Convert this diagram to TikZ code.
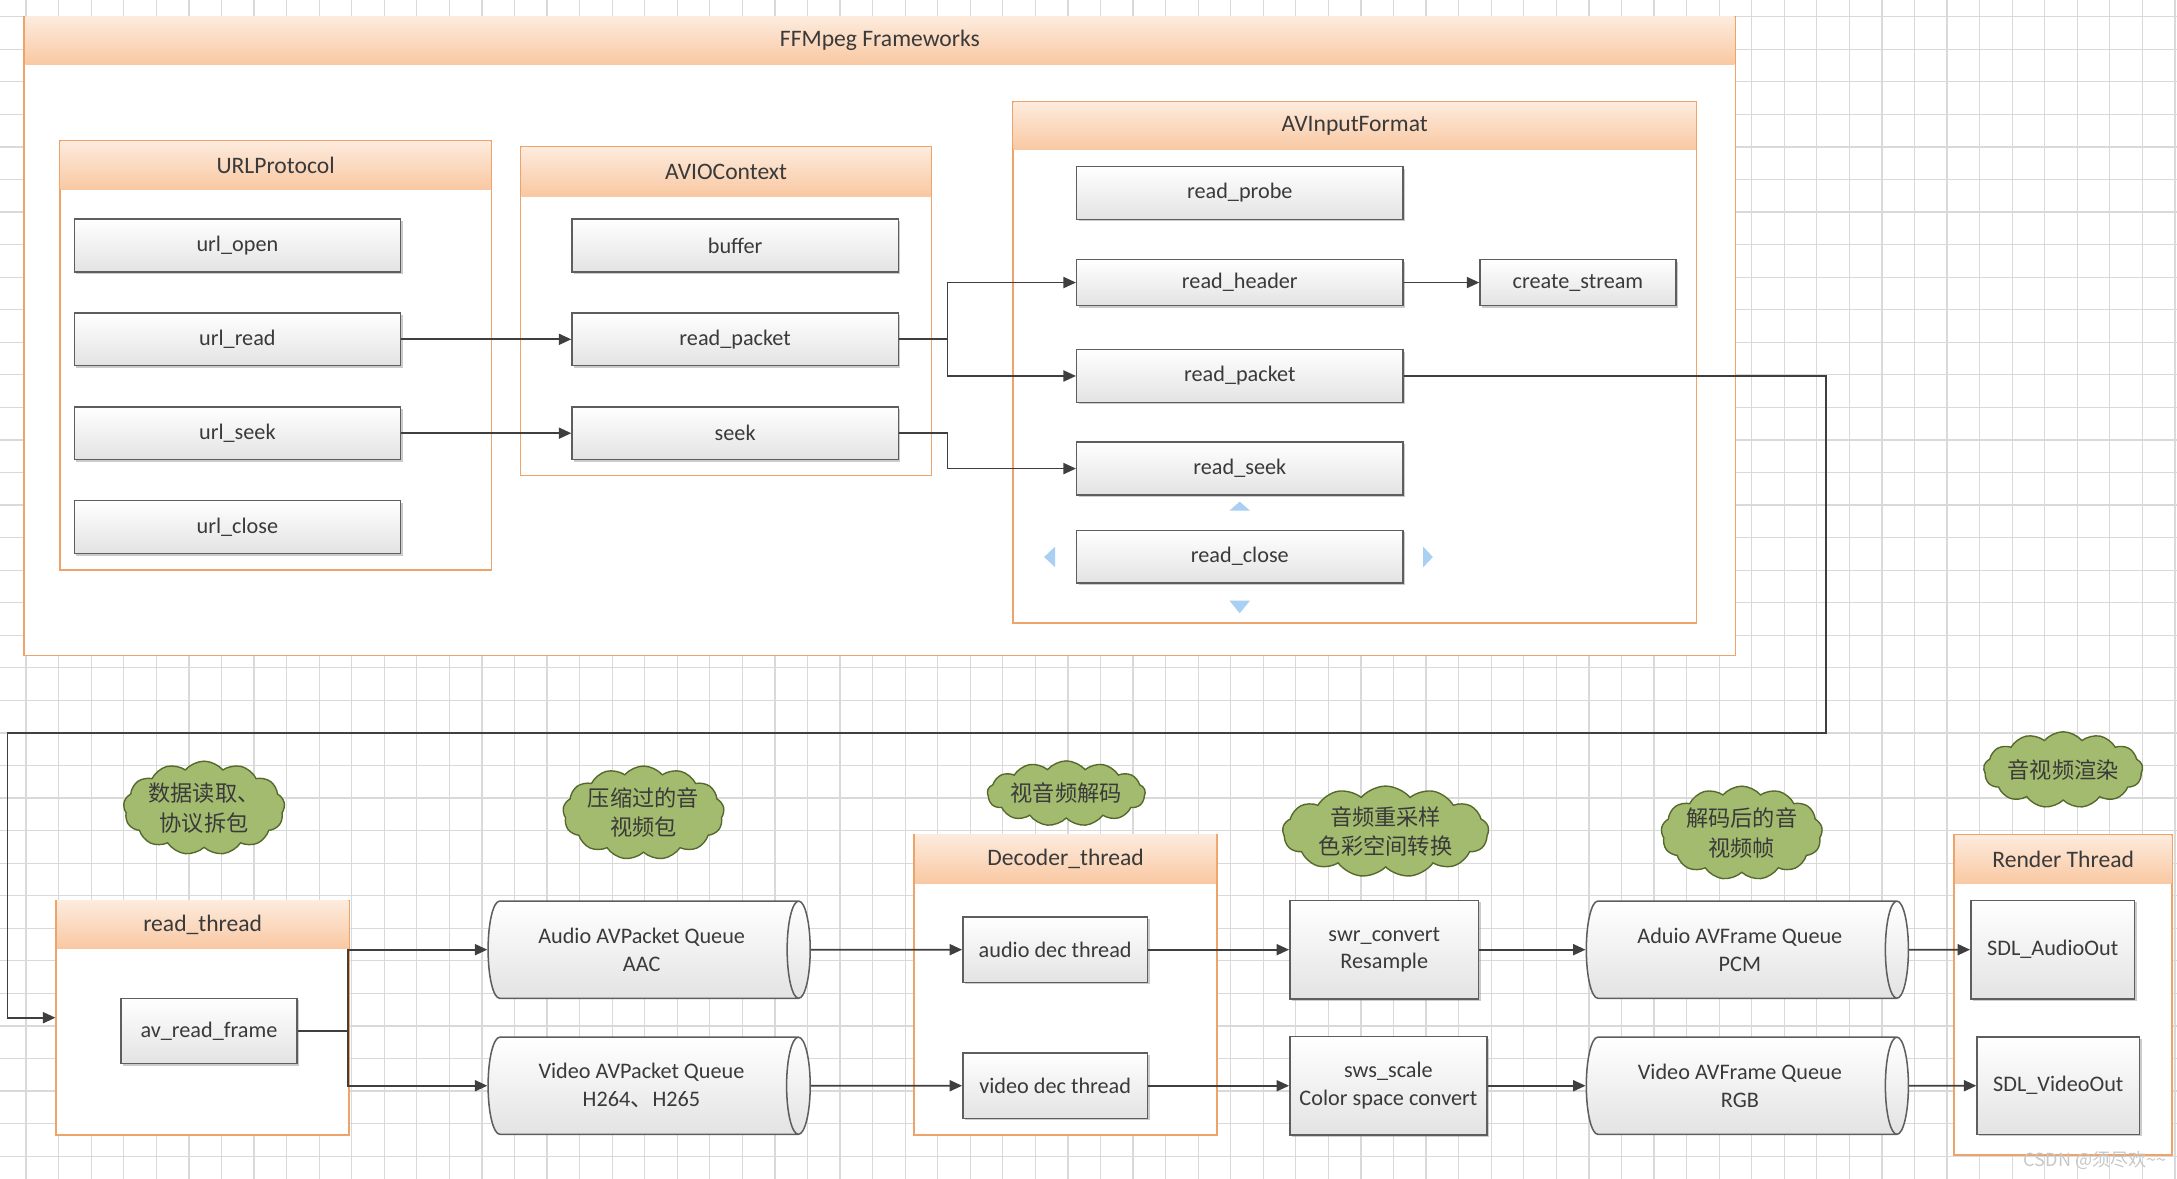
\documentclass[tikz,border=0pt]{standalone}
\usepackage{fontspec}
\setmainfont{Carlito}
\newfontfamily\cjk{Noto Sans CJK SC}
\usetikzlibrary{positioning,fit,shapes.geometric,shapes.symbols,arrows.meta,shadows}

\definecolor{gridgray}{HTML}{D9D9D9}
\definecolor{frameline}{HTML}{EDA36A}
\definecolor{headtop}{HTML}{FDEBDD}
\definecolor{headbot}{HTML}{F9C8A2}
\definecolor{itemline}{HTML}{5E5E5E}
\definecolor{itembot}{HTML}{E3E3E3}
\definecolor{linkgray}{HTML}{3F3F3F}
\definecolor{cloudfill}{HTML}{A3BB6E}
\definecolor{cloudline}{HTML}{55692C}
\definecolor{handleblue}{HTML}{A9CFF2}
\definecolor{txt}{HTML}{3A3A3A}

\begin{document}
\begin{tikzpicture}[x=1pt, y=-1pt, node distance={67.6pt},
	every node/.style={text=txt, font=\fontsize{16}{20}\selectfont},
	frame/.style={draw=frameline, line width=1.2pt, fill=white, inner sep=0pt},
	head/.style={top color=headtop, bottom color=headbot, inner sep=0pt, anchor=north, font=\fontsize{17}{20}\selectfont},
	item/.style={draw=itemline, line width=1.1pt, top color=white, bottom color=itembot, minimum width=235pt, minimum height=38pt, inner sep=1pt, align=center,
		drop shadow={shadow xshift=1.5pt, shadow yshift=-1.5pt, fill=black!40, opacity=0.5}},
	queue/.style={cylinder, draw=itemline, line width=1.1pt, top color=white, bottom color=itembot, shape aspect=0.5, minimum width=70pt, minimum height=232pt, inner sep=1pt, align=center, anchor=west},
	note/.style={cloud, cloud puffs=13, cloud puff arc=100, aspect=2, draw=cloudline, line width=1pt, fill=cloudfill, inner sep=0pt, align=center, font=\cjk\fontsize{16}{21}\selectfont},
	link/.style={draw=linkgray, line width=1.2pt, -{Triangle[length=9pt,width=8pt]}},
	handle/.style={fill=handleblue}]

	\useasboundingbox (0,0) rectangle (1568,849);
	\begin{scope}
		\clip (0,0) rectangle (1568,849);
		\draw[gridgray, line width=0.9pt, shift={(18.8,12)}, step=23.45pt] (-40,880) grid (1600,-40);
	\end{scope}

	% FFmpeg part
	\node[frame, fit={(17.5,12) (1250,472)}] (ffm) {};
	\node[head, minimum width=1231pt, minimum height=34pt] (ffmhead) at ([yshift=-0.6pt]ffm.north) {FFMpeg Frameworks};

	\node[frame, fit={(43,101.5) (354,410.7)}] (urlp) {};
	\node[head, minimum width=309.8pt, minimum height=34.5pt] at ([yshift=-0.6pt]urlp.north) {URLProtocol};
	\node[item] (uopen) at (171,176.8) {url\_open};
	\node[item] (uread) [below of=uopen] {url\_read};
	\node[item] (useek) [below of=uread] {url\_seek};
	\node[item] (uclose) [below of=useek] {url\_close};

	\node[frame, fit={(375,106) (671,342.5)}] (avio) {};
	\node[head, minimum width=294.8pt, minimum height=35pt] at ([yshift=-0.6pt]avio.north) {AVIOContext};
	\node[item] (buf) at (529.5,176.8) {buffer};
	\node[item] (apkt) [below of=buf] {read\_packet};
	\node[item] (aseek) [below of=apkt] {seek};

	\node[frame, fit={(729.5,73.3) (1222,448.5)}] (avin) {};
	\node[head, minimum width=491.3pt, minimum height=34.5pt] at ([yshift=-0.6pt]avin.north) {AVInputFormat};
	\node[item] (rprobe) at (893,139) {read\_probe};
	\node[item, minimum height=33pt] (rhead) at (893,203.5) {read\_header};
	\node[item] (ipkt) at (893,270.8) {read\_packet};
	\node[item] (rseek) at (893,337.5) {read\_seek};
	\node[item] (rclose) at (893,401) {read\_close};
	\node[item, minimum width=141pt, minimum height=33pt] (cstream) at (1136.5,203.5) {create\_stream};

	\fill[handle] (885.5,367.8) -- (900.3,367.8) -- (892.9,361.3) -- cycle;
	\fill[handle] (885.5,432.6) -- (900.3,432.6) -- (892.9,441.7) -- cycle;
	\fill[handle] (760,393.7) -- (760,408.6) -- (752,401.2) -- cycle;
	\fill[handle] (1025,393.7) -- (1025,408.6) -- (1032,401.2) -- cycle;

	\draw[link] (uread) -- (apkt);
	\draw[link] (useek) -- (aseek);
	\draw[link] (apkt.east) -- ++(35,0) |- (rhead.west);
	\draw[link] (apkt.east) -- ++(35,0) |- (ipkt.west);
	\draw[link] (aseek.east) -- ++(35,0) |- (rseek.west);
	\draw[link] (rhead) -- (cstream);

	% player threads
	\node[frame, fit={(40.5,648.5) (251.5,817.5)}] (rthread) {};
	\node[head, minimum width=209.8pt, minimum height=34.5pt] at ([yshift=-0.6pt]rthread.north) {read\_thread};
	\node[item, minimum width=127pt, minimum height=47pt] (avrf) at (150.5,742.5) {av\_read\_frame};

	\node[queue] (aq) at (351,684) {Audio AVPacket Queue\\AAC};
	\node[queue] (vq) at (351,782) {Video AVPacket Queue\\H264{\cjk 、}H265};

	\node[frame, fit={(658.5,601) (876.5,817.5)}] (dec) {};
	\node[head, minimum width=216.8pt, minimum height=35pt] at ([yshift=-0.6pt]dec.north) {Decoder\_thread};
	\node[item, minimum width=133pt, minimum height=47pt] (adec) at (760,684) {audio dec thread};
	\node[item, minimum width=133pt, minimum height=47pt] (vdec) at (760,782) {video dec thread};

	\node[item, minimum width=136pt, minimum height=71pt] (swr) at (997,684) {swr\_convert\\Resample};
	\node[item, minimum width=142pt, minimum height=71pt] (sws) at (1000,782) {sws\_scale\\Color space convert};

	\node[queue] (af) at (1142,684) {Aduio AVFrame Queue\\PCM};
	\node[queue] (vf) at (1142,782) {Video AVFrame Queue\\RGB};

	\node[frame, fit={(1407.5,601.4) (1564.5,832)}] (render) {};
	\node[head, minimum width=155.8pt, minimum height=35pt] at ([yshift=-0.6pt]render.north) {Render Thread};
	\node[item, minimum width=118pt, minimum height=71pt] (aout) at (1478.5,684) {SDL\_AudioOut};
	\node[item, minimum width=117pt, minimum height=70pt] (vout) at (1482.5,782) {SDL\_VideoOut};

	\draw[link] (ipkt.east) -| (1315,528) -| ([xshift=-34.5pt]rthread.west) -- (rthread.west);
	\draw[link] (avrf.east) -- ++(36,0) |- (aq.west);
	\draw[link] (avrf.east) -- ++(36,0) |- (vq.west);
	\draw[link] (aq.east) -- (adec.west);
	\draw[link] (vq.east) -- (vdec.west);
	\draw[link] (adec.east) -- (swr.west);
	\draw[link] (vdec.east) -- (sws.west);
	\draw[link] (swr.east) -- (af.west);
	\draw[link] (sws.east) -- (vf.west);
	\draw[link] (af.east) -- (aout.west);
	\draw[link] (vf.east) -- (vout.west);

	% notes
	\node[note] (n1) at (147,582) {数据读取、\\协议拆包};
	\node[note] (n2) at (463.5,585.5) {压缩过的音\\视频包};
	\node[note, aspect=3.2] (n3) at (768,571.5) {视音频解码};
	\node[note, aspect=2.9] (n4) at (998,599) {音频重采样\\色彩空间转换};
	\node[note] (n5) at (1254.5,600) {解码后的音\\视频帧};
	\node[note, aspect=2.6] (n6) at (1486,554.5) {音视频渲染};

	\node[text=black!22, font=\cjk\fontsize{13}{15}\selectfont] (mark) at (1509,836) {CSDN @须尽欢\textasciitilde\textasciitilde};
\end{tikzpicture}
\end{document}
